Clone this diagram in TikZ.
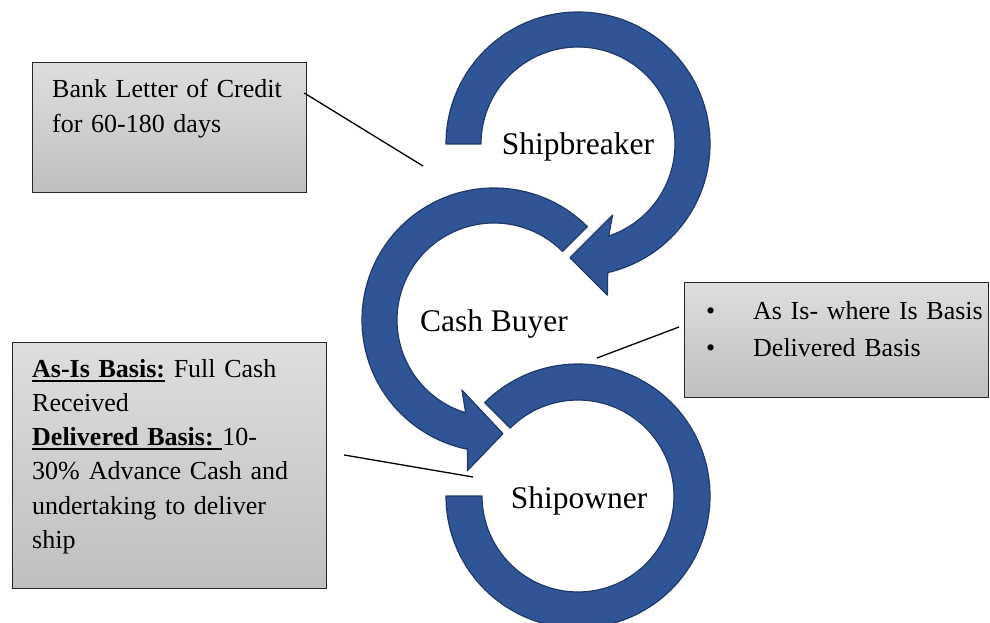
\documentclass[tikz,border=0pt]{standalone}
\usepackage{fontspec}
\setmainfont{Liberation Serif}
\usetikzlibrary{calc}
\definecolor{ringblue}{RGB}{47,85,151}
\definecolor{ringedge}{RGB}{33,57,102}
% underline drawn as a rule under the boxed text
\newsavebox\ulsave
\newcommand\ulbox[1]{\leavevmode\sbox\ulsave{#1}\rlap{\rule[-4.5pt]{\wd\ulsave}{1.8pt}}\usebox\ulsave}
\tikzset{
  panel/.style = {draw=black!85, line width=1.2pt, top color=black!13,
                  bottom color=black!25, inner sep=0pt, anchor=north west},
  note/.style  = {anchor=base west, align=left, inner sep=0pt,
                  font=\fontsize{26}{34.3}\selectfont},
  ring/.style  = {fill=ringblue, draw=ringedge, line width=1.2pt, line join=round},
  lbl/.style   = {anchor=base, inner sep=0pt, font=\fontsize{31.5}{36}\selectfont},
  lead/.style  = {draw=black, line width=1.3pt},
}

\begin{document}
\begin{tikzpicture}[x=1pt, y=1pt]
  \useasboundingbox (0,0) rectangle (990,622);
  \clip (0,0) rectangle (990,622);

  % circular arrows
  \coordinate (c1) at (578,478);
  \coordinate (c2) at (494,302);
  \coordinate (c3) at (578,126);
  \begin{scope}[shift={(c1)}]
    \draw[ring] (180:132) arc[start angle=180, end angle=-77, radius=132]
      -- (-79:154) -- (-94:114) -- (-64:79) -- (-71.6:97)
      arc[start angle=-71.6, end angle=180, radius=97] -- cycle;
  \end{scope}
  \begin{scope}[shift={(c2)}]
    \draw[ring] (45:132) arc[start angle=45, end angle=258.4, radius=132]
      -- (260:153) -- (274.5:114) -- (245.4:77) -- (253:97)
      arc[start angle=253, end angle=45, radius=97] -- cycle;
  \end{scope}
  \begin{scope}[shift={(c3)}]
    \draw[ring] (180:132) arc[start angle=180, end angle=495, radius=132]
      -- (495:96) arc[start angle=495, end angle=180, radius=96] -- cycle;
  \end{scope}

  \node[lbl] (sb) at (578,467) {Shipbreaker};
  \node[lbl] (cb) at (494,291) {Cash Buyer};
  \node[lbl] (so) at (579,114) {Shipowner};

  % text panels
  \node[panel, minimum width=274pt, minimum height=130pt] (letter) at (32,560) {};
  \node[note, text width=250pt] (letterTxt) at (52,524)
    {Bank Letter of Credit\\for 60-180 days};

  \node[panel, minimum width=304pt, minimum height=115pt] (basis) at (684,340) {};
  \node[note, text width=280pt, font=\fontsize{26}{36.5}\selectfont] (basisTxt) at (706,302)
    {\makebox[47pt][l]{\textbullet}As Is- where Is Basis\\
     \makebox[47pt][l]{\textbullet}Delivered Basis};

  \node[panel, minimum width=314pt, minimum height=246pt] (cash) at (12,280) {};
  \node[note, text width=290pt] (cashTxt) at (32,245)
    {\ulbox{\textbf{As-Is Basis:}} Full Cash\\
     Received\\
     \ulbox{\textbf{Delivered Basis:\ }}10-\\
     30\%\hspace{9pt}Advance Cash and\\
     undertaking to deliver\\
     ship};

  % leader lines
  \coordinate (letterEnd) at (423,456);
  \coordinate (basisEnd) at (597,264);
  \coordinate (cashEnd) at (473,145);
  \draw[lead] ([xshift=-3pt, yshift=-31pt]letter.north east) -- (letterEnd);
  \draw[lead] ([xshift=-5pt, yshift=-45pt]basis.north west) -- (basisEnd);
  \draw[lead] ([xshift=17pt, yshift=-113pt]cash.north east) -- (cashEnd);
\end{tikzpicture}
\end{document}
